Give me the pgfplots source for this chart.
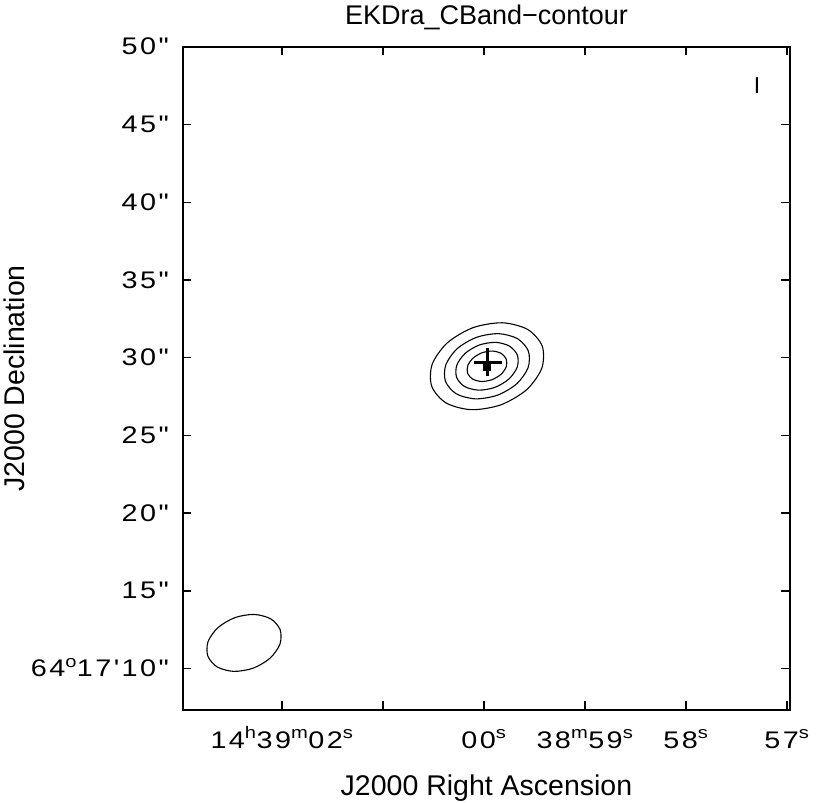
\documentclass[border=0pt]{standalone}
\usepackage{fontspec}
\setmainfont{Liberation Sans}
\newfontfamily\tickfont[FakeStretch=1.2,LetterSpace=10]{Liberation Sans}
\usepackage{pgfplots}
\pgfplotsset{compat=1.18}
\begin{document}
\begin{tikzpicture}
\begin{axis}[
  name=ax,
  scale only axis, width=607pt, height=663pt,
  x dir=reverse,
  xmin=-3.03, xmax=2.98, ymin=7.33, ymax=50,
  axis line style={line width=1.6pt},
  tick align=inside, tick pos=both,
  major tick length=8.5pt,
  tick style={line width=1.4pt, black},
  xtick={-3,-2,-1,0,1,2},
  xticklabels={57\textsuperscript{s}, 58\textsuperscript{s}, 38\textsuperscript{m}59\textsuperscript{s}, 00\textsuperscript{s}, {}, 14\textsuperscript{h}39\textsuperscript{m}02\textsuperscript{s}},
  ytick={10,15,20,25,30,35,40,45,50},
  yticklabels={64\textsuperscript{o}17\symbol{39}10\symbol{34}, 15\symbol{34}, 20\symbol{34}, 25\symbol{34}, 30\symbol{34}, 35\symbol{34}, 40\symbol{34}, 45\symbol{34}, 50\symbol{34}},
  xticklabel style={font=\tickfont\fontsize{24}{26}\selectfont, anchor=base, yshift=-38pt, inner sep=0pt},
  yticklabel style={font=\tickfont\fontsize{24}{26}\selectfont, anchor=base east, xshift=-14pt, yshift=-8pt, inner sep=0pt},
  title={EKDra\_CBand−contour},
  title style={at={(axis description cs:0.5,1)}, anchor=base, yshift=16pt, inner sep=0pt, font=\fontsize{27}{29}\selectfont},
  xlabel={J2000 Right Ascension},
  xlabel style={at={(axis description cs:0.5,0)}, anchor=base, yshift=-85pt, inner sep=0pt, font=\fontsize{28.5}{30}\selectfont},
  ylabel={J2000 Declination},
  ylabel style={at={(axis description cs:0,0.5)}, anchor=base, yshift=158pt, inner sep=0pt, font=\fontsize{28.5}{30}\selectfont},
  clip=false,
]
% contours
\addplot[black, line width=1.1pt, smooth cycle, mark=none] coordinates {
 (-0.577,30.748) (-0.434,31.816) (-0.183,32.250) (0.109,31.934) (0.364,30.954) (0.513,29.572)
 (0.517,28.158) (0.375,27.091) (0.124,26.657) (-0.168,26.972) (-0.424,27.952) (-0.573,29.334)};
\addplot[black, line width=1.1pt, smooth cycle, mark=none] coordinates {
 (-0.440,30.424) (-0.333,31.225) (-0.145,31.550) (0.074,31.314) (0.266,30.579) (0.378,29.542)
 (0.381,28.482) (0.274,27.681) (0.085,27.356) (-0.134,27.592) (-0.325,28.327) (-0.437,29.364)};
\addplot[black, line width=1.1pt, smooth cycle, mark=none] coordinates {
 (-0.331,30.165) (-0.252,30.752) (-0.114,30.991) (0.047,30.818) (0.187,30.279) (0.269,29.519)
 (0.271,28.741) (0.193,28.154) (0.055,27.915) (-0.106,28.088) (-0.246,28.627) (-0.329,29.388)};
\addplot[black, line width=1.1pt, smooth cycle, mark=none] coordinates {
 (-0.221,29.906) (-0.171,30.280) (-0.083,30.432) (0.019,30.321) (0.108,29.978) (0.160,29.495)
 (0.162,29.000) (0.112,28.626) (0.024,28.474) (-0.078,28.585) (-0.168,28.928) (-0.220,29.411)};
% beam
\addplot[black, line width=1.1pt, smooth cycle, mark=none] coordinates {
 (2.018,12.496) (2.111,13.195) (2.276,13.480) (2.467,13.273) (2.634,12.631) (2.732,11.726)
 (2.734,10.800) (2.641,10.101) (2.477,9.816) (2.285,10.023) (2.118,10.665) (2.020,11.570)};
% cross and peak
\addplot[black, line width=2.4pt, mark=none] coordinates {(0.099,29.691) (-0.178,29.691)};
\addplot[black, line width=2.4pt, mark=none] coordinates {(-0.036,30.644) (-0.036,28.841)};
\addplot[black, only marks, mark=square*, mark size=3.3pt] coordinates {(-0.027,29.395)};
\node[anchor=base, inner sep=0pt, font=\fontsize{23}{25}\selectfont] at (axis cs:-2.703,47.0) {I};
\end{axis}
\pgfresetboundingbox
\path ([shift={(-183pt,-93pt)}]ax.south west) rectangle ([shift={(32pt,47pt)}]ax.north east);
\end{tikzpicture}
\end{document}
